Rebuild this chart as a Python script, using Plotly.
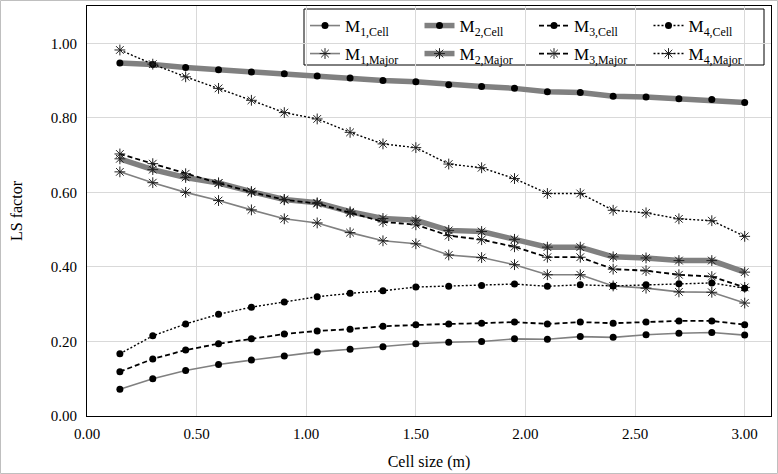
import plotly.graph_objects as go

x = [0.15, 0.30, 0.45, 0.60, 0.75, 0.90, 1.05, 1.20, 1.35, 1.50,
     1.65, 1.80, 1.95, 2.10, 2.25, 2.40, 2.55, 2.70, 2.85, 3.00]

m1_cell = [0.072, 0.100, 0.122, 0.138, 0.150, 0.161, 0.172, 0.179, 0.186, 0.194,
           0.198, 0.200, 0.207, 0.206, 0.213, 0.211, 0.218, 0.222, 0.224, 0.217]
m2_cell = [0.947, 0.943, 0.935, 0.929, 0.923, 0.918, 0.912, 0.907, 0.900, 0.897,
           0.889, 0.884, 0.879, 0.870, 0.868, 0.858, 0.856, 0.851, 0.849, 0.841]
m3_cell = [0.119, 0.153, 0.177, 0.194, 0.207, 0.220, 0.228, 0.233, 0.241, 0.245,
           0.247, 0.249, 0.252, 0.247, 0.252, 0.249, 0.252, 0.255, 0.255, 0.245]
m4_cell = [0.167, 0.215, 0.247, 0.273, 0.292, 0.306, 0.320, 0.329, 0.336, 0.346,
           0.348, 0.350, 0.354, 0.348, 0.352, 0.349, 0.352, 0.355, 0.357, 0.343]
m1_major = [0.655, 0.626, 0.600, 0.578, 0.553, 0.529, 0.518, 0.492, 0.470, 0.462,
            0.432, 0.425, 0.406, 0.379, 0.379, 0.349, 0.343, 0.333, 0.332, 0.303]
m2_major = [0.690, 0.661, 0.640, 0.625, 0.602, 0.581, 0.572, 0.548, 0.530, 0.525,
            0.498, 0.495, 0.474, 0.453, 0.453, 0.427, 0.424, 0.417, 0.417, 0.386]
m3_major = [0.703, 0.677, 0.650, 0.625, 0.601, 0.580, 0.570, 0.545, 0.521, 0.513,
            0.484, 0.473, 0.454, 0.426, 0.426, 0.394, 0.390, 0.379, 0.374, 0.345]
m4_major = [0.982, 0.944, 0.910, 0.879, 0.847, 0.814, 0.797, 0.761, 0.730, 0.720,
            0.676, 0.666, 0.637, 0.597, 0.597, 0.552, 0.545, 0.529, 0.524, 0.482]

y_ticks = [0.0, 0.2, 0.4, 0.6, 0.8, 1.0]
x_ticks = [0.0, 0.5, 1.0, 1.5, 2.0, 2.5, 3.0]

FONT = "Liberation Serif"
GREY = "#808080"

styles = {
    1: dict(color=GREY, width=1.6, dash="solid"),
    2: dict(color=GREY, width=5.5, dash="solid"),
    3: dict(color="black", width=1.8, dash="5px,3px"),
    4: dict(color="black", width=1.4, dash="2px,2px"),
}

series = [
    (2, "Cell", m2_cell), (2, "Major", m2_major),
    (1, "Cell", m1_cell), (1, "Major", m1_major),
    (3, "Cell", m3_cell), (3, "Major", m3_major),
    (4, "Cell", m4_cell), (4, "Major", m4_major),
]

fig = go.Figure()
for k, kind, vals in series:
    if kind == "Cell":
        marker = dict(symbol="circle", size=7, color="black",
                      line=dict(width=0, color="black"))
        leg = "legend"
    else:
        marker = dict(symbol="asterisk-open", size=9, color="#202020",
                      line=dict(width=1, color="#202020"))
        leg = "legend2"
    fig.add_trace(go.Scatter(
        x=x, y=vals, mode="lines+markers",
        name=f"M<sub>{k},{kind}</sub>",
        line=styles[k], marker=marker,
        legend=leg, legendrank=k,
    ))

L, R, T, B = 87, 7, 6, 58
W, H = 778, 474
pw = W - L - R
ph = H - T - B

leg_x = (305 - L) / pw

fig.update_layout(
    width=W, height=H,
    margin=dict(l=L, r=R, t=T, b=B, autoexpand=False),
    paper_bgcolor="white", plot_bgcolor="white",
    font=dict(family=FONT, size=15, color="black"),
    showlegend=True,
    legend=dict(
        orientation="h", x=leg_x, y=(416 - 26) / ph,
        xanchor="left", yanchor="middle",
        font=dict(family=FONT, size=17, color="black"),
        bgcolor="rgba(0,0,0,0)", borderwidth=0,
        entrywidth=69.5, entrywidthmode="pixels",
    ),
    legend2=dict(
        orientation="h", x=leg_x, y=(416 - 54) / ph,
        xanchor="left", yanchor="middle",
        font=dict(family=FONT, size=17, color="black"),
        bgcolor="rgba(0,0,0,0)", borderwidth=0,
        entrywidth=69.5, entrywidthmode="pixels",
    ),
    xaxis=dict(
        range=[0, 3.12], tickvals=x_ticks, tickformat=".2f",
        showgrid=True, gridcolor="#d9d9d9", gridwidth=1,
        showline=True, linecolor="black", linewidth=1, mirror=True,
        ticks="outside", ticklen=4, tickcolor="rgba(0,0,0,0)",
        tickfont=dict(family=FONT, size=15, color="black"),
        title=dict(text="Cell size (m)", font=dict(family=FONT, size=16, color="black"), standoff=14),
        zeroline=False,
    ),
    yaxis=dict(
        range=[0, 1.1], tickvals=y_ticks, tickformat=".2f",
        showgrid=True, gridcolor="#d9d9d9", gridwidth=1,
        showline=True, linecolor="black", linewidth=1, mirror=True,
        ticks="outside", ticklen=6, tickcolor="rgba(0,0,0,0)",
        tickfont=dict(family=FONT, size=15, color="black"),
        title=dict(text="LS factor", font=dict(family=FONT, size=16, color="black"), standoff=24),
        zeroline=False,
    ),
    shapes=[
        dict(type="rect", xref="paper", yref="paper",
             x0=(304 - L) / pw, x1=(764 - L) / pw,
             y0=(416 - 65) / ph, y1=(416 - 9) / ph,
             line=dict(color="black", width=1), fillcolor="white", layer="below"),
        dict(type="rect", xref="paper", yref="paper",
             x0=-(L - 0.5) / pw, x1=1 + (R - 0.5) / pw,
             y0=-(B - 0.5) / ph, y1=1 + (T - 0.5) / ph,
             line=dict(color="#bfbfbf", width=1), layer="above"),
    ],
)

fig.write_html("out.html")
